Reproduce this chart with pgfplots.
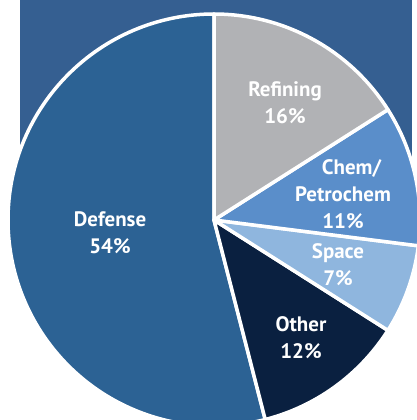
\documentclass[border=0pt]{standalone}
\usepackage{fontspec}
\setmainfont{PT Sans}
\usepackage{pgfplots}
\usepackage{pgfplotstable}
\pgfplotsset{compat=1.18}

\definecolor{bgblue}{HTML}{355F91}
\definecolor{cDef}{HTML}{2C6294}
\definecolor{cOth}{HTML}{0A2040}
\definecolor{cSpa}{HTML}{8FB6DE}
\definecolor{cChe}{HTML}{5A8ECA}
\definecolor{cRef}{HTML}{B1B2B5}

% shares in percent, counter-clockwise from 12 o'clock
\pgfplotstableread{
value col
54 cDef
12 cOth
7  cSpa
11 cChe
16 cRef
}\piedata

\begin{document}
\begin{tikzpicture}
\begin{axis}[
  width=417bp, height=420bp, scale only axis,
  xmin=0, xmax=417, ymin=0, ymax=420,
  hide axis, clip=true,
]
\fill[bgblue] (axis cs:20,420) rectangle (axis cs:412,190);
\def\angstart{90}
\pgfplotsforeachungrouped \i in {0,...,4}{%
  \pgfplotstablegetelem{\i}{value}\of\piedata \let\v\pgfplotsretval
  \pgfplotstablegetelem{\i}{col}\of\piedata \let\c\pgfplotsretval
  \pgfmathsetmacro\angend{\angstart+3.6*\v}%
  \edef\temp{\noexpand\fill[\c,draw=white,line width=3.5bp,line join=round]
    (axis cs:214,200) -- ++(\angstart:206bp)
    arc[start angle=\angstart,end angle=\angend,radius=206bp] -- cycle;}%
  \temp
  \let\angstart\angend
}
\tikzset{lbl/.style={text=white, font=\bfseries\fontsize{21}{27}\selectfont, align=center}}
\node[lbl] at (axis cs:110,187.5) {Defense\\54\%};
\node[lbl] at (axis cs:285,317.5) {Refining\\16\%};
\node[lbl] at (axis cs:343,226) {\hspace*{17bp}Chem/\\Petrochem\\11\%};
\node[lbl] at (axis cs:338,155) {Space\\7\%};
\node[lbl] at (axis cs:301,82) {Other\\12\%};
\end{axis}
\pgfresetboundingbox
\useasboundingbox (current axis.south west) rectangle (current axis.north east);
\end{tikzpicture}
\end{document}
